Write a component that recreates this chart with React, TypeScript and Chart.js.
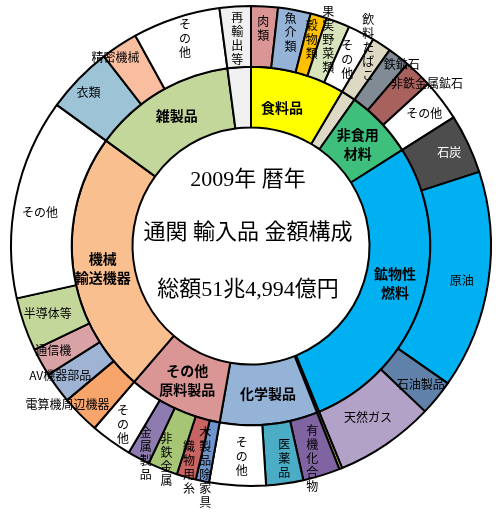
import React, { useEffect, useRef } from 'react';
import Chart from 'chart.js/auto';

// ---- data (percent of total imports) ----
const innerCategories = ['食料品', '飲料・たばこ', '非食用材料', '鉱物性燃料', '動植物性油脂', '化学製品', 'その他原料製品', '機械輸送機器', '雑製品', '再輸出等'];
const innerValues = [8.5, 1.3, 6.2, 27.8, 0.2, 8.8, 8.5, 23.7, 12.9, 2.1];
const innerLabelLines: (string[] | null)[] = [['食料品'], null, ['非食用', '材料'], ['鉱物性', '燃料'], null, ['化学製品'], ['その他', '原料製品'], ['機械', '輸送機器'], ['雑製品'], null];

const outerItems = [
  '肉類', '魚介類', '穀物類', '果実野菜類', 'その他', '飲料たばこ',
  '鉄鉱石', '非鉄金属鉱石', 'その他',
  '石炭', '原油', '石油製品', '天然ガス',
  '動植物性油脂',
  '有機化合物', '医薬品', 'その他',
  '木製品除家具', '織物用糸', '非鉄金属', '金属製品', 'その他',
  '電算機周辺機器', 'AV機器部品', '通信機', '半導体等', 'その他',
  '衣類', '精密機械', 'その他',
  '再輸出等',
];
const outerValues = [
  1.8, 2.2, 1.1, 1.6, 1.8, 1.3,
  1.5, 1.9, 2.8,
  4.0, 14.7, 2.4, 6.7,
  0.2,
  2.5, 2.5, 3.8,
  0.9, 1.3, 2.0, 1.5, 2.8,
  2.6, 2.1, 1.9, 3.6, 13.5,
  4.5, 2.5, 5.9,
  2.1,
];
const titleLines = ['2009年 暦年', '通関 輸入品 金額構成', '総額51兆4,994億円'];

// ---- styles ----
const innerColors = ['#FFFF00', '#DDD9C4', '#3EBF7B', '#00B0F0', '#B9CC55', '#95B3D7', '#DA9694', '#FABF8F', '#C4D79B', '#F0F0F0'];
const outerColors = [
  '#DA9694', '#95B3D7', '#FFC000', '#D8E4BC', '#FFFFFF', '#DDD9C4',
  '#808B96', '#A9615E', '#FFFFFF',
  '#4D4D4D', '#00B0F0', '#6082AA', '#B3A2C7',
  '#B9CC55',
  '#8064A2', '#4BACC6', '#FFFFFF',
  '#6F95CC', '#C86464', '#A6C676', '#8E7CB0', '#FFFFFF',
  '#F8A56C', '#9FB4D5', '#D9A3A6', '#C4D79B', '#FFFFFF',
  '#9DC3D6', '#F9BEA0', '#FFFFFF',
  '#F0F0F0',
];
// label layout: direction, angle offset (deg), radial offset (px)
type LL = { dir: 'v' | 'h' | 'none'; da: number; dr: number; color?: string };
const outerLayout: LL[] = [
  { dir: 'v', da: 0, dr: 8.5 }, { dir: 'v', da: 0, dr: 8 }, { dir: 'v', da: 0, dr: 5.5 }, { dir: 'v', da: -0.7, dr: 10.5 }, { dir: 'v', da: 0, dr: 0 }, { dir: 'v', da: -2.4, dr: 21 },
  { dir: 'h', da: 1.8, dr: 26 }, { dir: 'h', da: 3.2, dr: 30 }, { dir: 'h', da: 0, dr: 8.5 },
  { dir: 'h', da: 0, dr: 9.5, color: '#FFFFFF' }, { dir: 'h', da: 0.8, dr: 4 }, { dir: 'h', da: 0, dr: 9.5 }, { dir: 'h', da: 0, dr: -2.5 },
  { dir: 'none', da: 0, dr: 0 },
  { dir: 'v', da: 1, dr: 11.5 }, { dir: 'v', da: -0.8, dr: 5.5 }, { dir: 'v', da: -0.7, dr: 1.5 },
  { dir: 'v', da: 0, dr: 16.5 }, { dir: 'v', da: 0, dr: 20.5 }, { dir: 'v', da: 0, dr: 20 }, { dir: 'v', da: -1, dr: 23 }, { dir: 'v', da: 0, dr: 10 },
  { dir: 'h', da: 3.75, dr: 33 }, { dir: 'h', da: 2, dr: 21 }, { dir: 'h', da: 1.2, dr: 14 }, { dir: 'h', da: 0.8, dr: 4.3 }, { dir: 'h', da: -2.6, dr: 4 },
  { dir: 'h', da: -0.7, dr: 14 }, { dir: 'h', da: -2.4, dr: 22.5 }, { dir: 'v', da: 0.6, dr: 8.5 },
  { dir: 'v', da: 0, dr: -1.5 },
];
const innerLayout = [
  { da: -2.6, dr: -7.5 }, { da: 0, dr: 0 }, { da: 0, dr: -1.5 }, { da: -3, dr: 0 }, { da: 0, dr: 0 },
  { da: -0.75, dr: 0 }, { da: 0, dr: 0 }, { da: -1.75, dr: 1 }, { da: 1.2, dr: 1.5 }, { da: 0, dr: 0 },
];

const SANS = '"Noto Sans CJK JP", "Noto Sans", sans-serif';
const SERIF = '"Liberation Serif", "DejaVu Serif", "Noto Sans CJK JP", serif';

const labelPlugin = {
  id: 'sliceLabels',
  afterDatasetsDraw(chart: any) {
    const ctx: CanvasRenderingContext2D = chart.ctx;
    ctx.save();
    ctx.textAlign = 'center';
    ctx.textBaseline = 'middle';
    const pos = (arc: any, da: number, dr: number) => {
      const p = arc.getProps(['startAngle', 'endAngle', 'innerRadius', 'outerRadius', 'x', 'y'], true);
      const a = (p.startAngle + p.endAngle) / 2 + (da * Math.PI) / 180;
      const r = (p.innerRadius + p.outerRadius) / 2 + dr;
      return { x: p.x + Math.cos(a) * r, y: p.y + Math.sin(a) * r, cx: p.x, cy: p.y };
    };
    // outer ring
    const outerMeta = chart.getDatasetMeta(0);
    ctx.font = `12px ${SANS}`;
    outerMeta.data.forEach((arc: any, i: number) => {
      const l = outerLayout[i];
      if (!l || l.dir === 'none') return;
      const { x, y } = pos(arc, l.da, l.dr);
      ctx.fillStyle = l.color || '#000';
      const text = outerItems[i];
      if (l.dir === 'h') {
        ctx.fillText(text, x, y);
      } else {
        const chars = Array.from(text);
        const n = chars.length;
        chars.forEach((c, k) => ctx.fillText(c, x, y + (k - (n - 1) / 2) * 14));
      }
    });
    // inner ring
    const innerMeta = chart.getDatasetMeta(1);
    ctx.font = `bold 14px ${SANS}`;
    ctx.fillStyle = '#000';
    innerMeta.data.forEach((arc: any, i: number) => {
      const lines = innerLabelLines[i];
      if (!lines) return;
      const l = innerLayout[i];
      const { x, y } = pos(arc, l.da, l.dr);
      const n = lines.length;
      lines.forEach((t, k) => ctx.fillText(t, x, y + (k - (n - 1) / 2) * 19));
    });
    // centre title
    const c = pos(innerMeta.data[0], 0, 0);
    ctx.font = `22px ${SERIF}`;
    const offs = [-66, -13, 44];
    titleLines.forEach((t, k) => ctx.fillText(t, c.cx - 3, c.cy + offs[k]));
    ctx.restore();
  },
};

export default function App() {
  const ref = useRef<HTMLCanvasElement | null>(null);
  useEffect(() => {
    if (!ref.current) return;
    const chart = new Chart(ref.current, {
      type: 'doughnut',
      data: {
        labels: outerItems,
        datasets: [
          { data: outerValues, backgroundColor: outerColors, borderColor: '#000', borderWidth: 2 },
          { data: innerValues, backgroundColor: innerColors, borderColor: '#000', borderWidth: 2 },
        ],
      },
      options: {
        responsive: false,
        animation: false,
        radius: 240,
        cutout: 118,
        layout: { padding: { left: 11, right: 8, top: 6, bottom: 26 } },
        plugins: { legend: { display: false }, tooltip: { enabled: false } },
        events: [],
      } as any,
      plugins: [labelPlugin as any],
    });
    return () => chart.destroy();
  }, []);
  return (
    <div style={{ position: 'fixed', left: 0, top: 0, width: 499, height: 512, background: '#fff' }}>
      <canvas ref={ref} width={499} height={512} style={{ display: 'block' }} />
    </div>
  );
}
